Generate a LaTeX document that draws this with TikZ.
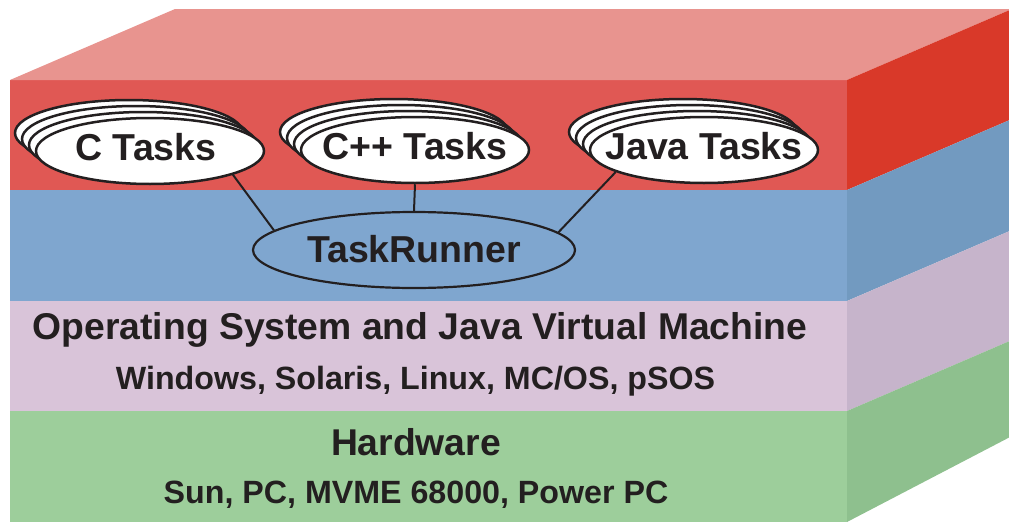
\documentclass[tikz,border=0pt]{standalone}
\usepackage{fontspec}
\setmainfont{Liberation Sans}
\usetikzlibrary{shapes.geometric}
\definecolor{txt}{HTML}{231F20}
\definecolor{topred}{HTML}{E8948F}
\definecolor{frontred}{HTML}{E05854}
\definecolor{sidered}{HTML}{D93929}
\definecolor{frontblue}{HTML}{7FA6CF}
\definecolor{sideblue}{HTML}{729AC0}
\definecolor{frontpink}{HTML}{D9C4D9}
\definecolor{sidepink}{HTML}{C6B4CB}
\definecolor{frontgreen}{HTML}{9DCE9B}
\definecolor{sidegreen}{HTML}{8EC08E}
\begin{document}
\begin{tikzpicture}[x=1pt,y=-1pt,
  taskell/.style={ellipse, draw=txt, line width=2.5pt, fill=white, minimum width=228pt, minimum height=66pt, inner sep=0pt,
    font=\bfseries\fontsize{37.5}{40}\selectfont, text=txt, text height=27pt, text depth=8pt},
  runner/.style={ellipse, draw=txt, line width=2.2pt, fill=frontblue, minimum width=322pt, minimum height=76pt, inner sep=0pt,
    font=\bfseries\fontsize{37.5}{40}\selectfont, text=txt, text height=27pt, text depth=3pt},
  conn/.style={draw=txt, line width=2pt},
  bigtext/.style={font=\bfseries\fontsize{37.3}{40}\selectfont, text=txt, anchor=base, inner sep=0pt},
  smalltext/.style={font=\bfseries\fontsize{32.2}{36}\selectfont, text=txt, anchor=base, inner sep=0pt}]
\useasboundingbox (0,0) rectangle (1009,522);
\clip (0,0) rectangle (1009,522);
% front face
\fill[frontred] (10,80) rectangle (847,190);
\fill[frontblue] (10,190) rectangle (847,301);
\fill[frontpink] (10,301) rectangle (847,411);
\fill[frontgreen] (10,411) rectangle (847,522);
% top face
\fill[topred] (10,80) -- (175,9) -- (1012,9) -- (847,80) -- cycle;
% side face
\fill[sidered] (847,80) -- (1012,9) -- (1012,119) -- (847,190) -- cycle;
\fill[sideblue] (847,190) -- (1012,119) -- (1012,230) -- (847,301) -- cycle;
\fill[sidepink] (847,301) -- (1012,230) -- (1012,340) -- (847,411) -- cycle;
\fill[sidegreen] (847,411) -- (1012,340) -- (1012,436) -- (847,522) -- cycle;
% C tasks stack
\node[taskell] (c3) at (129,133) {};
\node[taskell] (c2) at (136,139) {};
\node[taskell] (c1) at (143,145) {};
\node[taskell] (ct) at (150,151) {\makebox[0pt]{\hspace*{-8pt}C Tasks}};
% C++ tasks stack
\node[taskell] (p3) at (394,132) {};
\node[taskell] (p2) at (401,138) {};
\node[taskell] (p1) at (408,144) {};
\node[taskell] (pt) at (415,150) {\makebox[0pt]{C++ Tasks}};
% Java tasks stack
\node[taskell] (j3) at (683,132) {};
\node[taskell] (j2) at (690,138) {};
\node[taskell] (j1) at (697,144) {};
\node[taskell] (jt) at (704,150) {\makebox[0pt]{Java Tasks}};
% TaskRunner
\node[runner] (tr) at (414,250) {\makebox[0pt]{TaskRunner}};
% connectors
\draw[conn] (ct.-16) -- (tr.172);
\draw[conn] (pt.south) -- (tr.north);
\draw[conn] (jt.-166) -- (tr.7);
% layer texts
\node[bigtext] (os) at (420,339) {Operating System and Java Virtual Machine};
\node[smalltext] (osl) at (415.5,389) {Windows, Solaris, Linux, MC/OS, pSOS};
\node[bigtext] (hw) at (416,455) {Hardware};
\node[smalltext] (hwl) at (416,503) {Sun, PC, MVME 68000, Power PC};
\end{tikzpicture}
\end{document}
